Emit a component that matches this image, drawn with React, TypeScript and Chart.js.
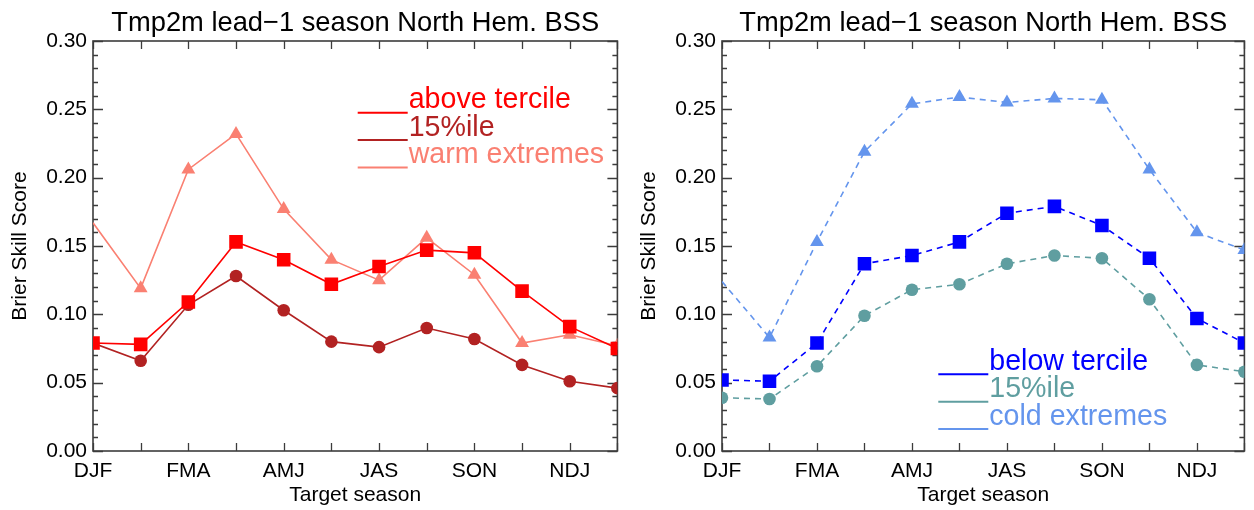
import React, { useEffect, useRef } from "react";
import { Chart, registerables } from "chart.js";

Chart.register(...registerables);

// ---------- data ----------
const seasons = ["DJF", "JFM", "FMA", "MAM", "AMJ", "MJJ", "JJA", "JAS", "ASO", "SON", "OND", "NDJ"];
const shownSeasonTicks = ["DJF", "", "FMA", "", "AMJ", "", "JAS", "", "SON", "", "NDJ", ""];
const yTickValues = [0, 0.05, 0.1, 0.15, 0.2, 0.25, 0.3];

const titleText = "Tmp2m lead\u22121 season North Hem. BSS";
const yTitleText = "Brier Skill Score";
const xTitleText = "Target season";

const warmLabels = ["above tercile", "15%ile", "warm extremes"];
const coldLabels = ["below tercile", "15%ile", "cold extremes"];

const aboveTercile = [0.079, 0.078, 0.109, 0.153, 0.140, 0.122, 0.135, 0.147, 0.145, 0.117, 0.091, 0.075];
const warm15ile = [0.079, 0.066, 0.107, 0.128, 0.103, 0.080, 0.076, 0.090, 0.082, 0.063, 0.051, 0.046];
const warmExtremes = [0.167, 0.119, 0.206, 0.232, 0.177, 0.140, 0.125, 0.156, 0.129, 0.079, 0.085, 0.077];

const belowTercile = [0.052, 0.051, 0.079, 0.137, 0.143, 0.153, 0.174, 0.179, 0.165, 0.141, 0.097, 0.079];
const cold15ile = [0.039, 0.038, 0.062, 0.099, 0.118, 0.122, 0.137, 0.143, 0.141, 0.111, 0.063, 0.058];
const coldExtremes = [0.124, 0.083, 0.153, 0.219, 0.254, 0.259, 0.255, 0.258, 0.257, 0.206, 0.160, 0.147];

// ---------- styles ----------
const FONT = "'Liberation Sans', Arial, Helvetica, sans-serif";
const warmColors = ["#FF0000", "#B22222", "#FA8072"];
const coldColors = ["#0000FF", "#5F9EA0", "#6495ED"];

const CANVAS_W = 627;
const CANVAS_H = 510;

const idlPlugin = {
  id: "idlFrame",
  beforeDatasetsDraw(chart: any) {
    const { ctx, chartArea: a, scales } = chart;
    const xs = scales.x;
    const ys = scales.y;
    ctx.save();
    ctx.strokeStyle = "#3c3c3c";
    ctx.lineWidth = 1.6;
    ctx.strokeRect(a.left, a.top, a.right - a.left, a.bottom - a.top);
    ctx.lineWidth = 1.3;
    ctx.beginPath();
    for (let i = 0; i <= 30; i++) {
      const py = Math.round(ys.getPixelForValue(i / 100)) + 0.5;
      const len = i % 5 === 0 ? 10 : 5;
      ctx.moveTo(a.left, py);
      ctx.lineTo(a.left + len, py);
      ctx.moveTo(a.right, py);
      ctx.lineTo(a.right - len, py);
    }
    for (let i = 0; i < seasons.length; i++) {
      const px = Math.round(xs.getPixelForValue(i)) + 0.5;
      ctx.moveTo(px, a.top);
      ctx.lineTo(px, a.top + 8);
      ctx.moveTo(px, a.bottom);
      ctx.lineTo(px, a.bottom - 8);
    }
    ctx.stroke();
    ctx.restore();
  },
  afterDraw(chart: any, _args: any, opts: any) {
    const { ctx, chartArea: a } = chart;
    ctx.save();
    // title
    ctx.fillStyle = "#000";
    ctx.font = `${opts.titleSize}px ${FONT}`;
    ctx.textAlign = "center";
    ctx.textBaseline = "alphabetic";
    ctx.fillText(opts.title, (a.left + a.right) / 2, opts.titleBaseline);
    // legend
    ctx.font = `${opts.legendSize}px ${FONT}`;
    ctx.textAlign = "left";
    opts.labels.forEach((lab: string, i: number) => {
      const ly = opts.legendY + i * opts.legendStep;
      ctx.strokeStyle = opts.colors[i];
      ctx.lineWidth = 2;
      ctx.beginPath();
      ctx.moveTo(opts.legendX0, ly);
      ctx.lineTo(opts.legendX1, ly);
      ctx.stroke();
      ctx.fillStyle = opts.colors[i];
      ctx.fillText(lab, opts.legendX1 + 1, ly - 4.5);
    });
    ctx.restore();
  },
};

function makeConfig(side: "warm" | "cold") {
  const warm = side === "warm";
  const colors = warm ? warmColors : coldColors;
  const series = warm ? [aboveTercile, warm15ile, warmExtremes] : [belowTercile, cold15ile, coldExtremes];
  const labels = warm ? warmLabels : coldLabels;
  const dash = warm ? [] : [6, 5];
  const styles = ["rect", "circle", "triangle"];
  const radii: any[] = [9.6, 6.3, seasons.map((_, i) => (i === 0 ? 0 : 8))];
  const tickFont = { family: FONT, size: 21 };
  return {
    type: "line" as const,
    data: {
      labels: seasons,
      datasets: series.map((d, k) => ({
        label: labels[k],
        data: d,
        borderColor: colors[k],
        backgroundColor: colors[k],
        pointBackgroundColor: colors[k],
        pointBorderColor: colors[k],
        pointBorderWidth: 0,
        pointStyle: styles[k],
        pointRadius: radii[k],
        borderWidth: 1.6,
        borderDash: dash,
        tension: 0,
        fill: false,
        clip: 0,
      })),
    },
    options: {
      animation: false as const,
      responsive: false,
      devicePixelRatio: 1,
      layout: { padding: { left: 0, right: warm ? 5 : 3, top: 41, bottom: 0 } },
      plugins: {
        legend: { display: false },
        tooltip: { enabled: false },
        title: { display: false },
        idlFrame: {
          title: titleText,
          titleSize: 27.3,
          titleBaseline: 31,
          legendSize: 28.6,
          labels,
          colors,
          legendX0: warm ? 357.7 : 311.3,
          legendX1: warm ? 407.7 : 361.3,
          legendY: warm ? 112.7 : 374.3,
          legendStep: 27.4,
        },
      },
      scales: {
        x: {
          type: "category" as const,
          offset: false,
          grid: { display: false, drawTicks: false },
          border: { display: false },
          ticks: {
            autoSkip: false,
            maxRotation: 0,
            minRotation: 0,
            padding: 8,
            color: "#000",
            font: tickFont,
            callback: (_v: any, i: number) => shownSeasonTicks[i],
          },
          title: {
            display: true,
            text: xTitleText,
            color: "#000",
            font: tickFont,
            padding: { top: 0, bottom: 2 },
          },
          afterFit: (s: any) => {
            s.height = 59;
          },
        },
        y: {
          min: 0,
          max: 0.3,
          grid: { display: false, drawTicks: false },
          border: { display: false },
          afterBuildTicks: (s: any) => {
            s.ticks = yTickValues.map((v) => ({ value: v }));
          },
          ticks: {
            padding: 6,
            color: "#000",
            font: tickFont,
            callback: (v: any) => Number(v).toFixed(2),
          },
          title: {
            display: true,
            text: yTitleText,
            color: "#000",
            font: tickFont,
            padding: { top: warm ? 8 : 10, bottom: 0 },
          },
          afterFit: (s: any) => {
            s.width = warm ? 93 : 95;
          },
        },
      },
    },
    plugins: [idlPlugin],
  };
}

function Panel({ side, left }: { side: "warm" | "cold"; left: number }) {
  const ref = useRef<HTMLCanvasElement>(null);
  useEffect(() => {
    const chart = new Chart(ref.current as HTMLCanvasElement, makeConfig(side) as any);
    return () => chart.destroy();
  }, [side]);
  return (
    <canvas
      ref={ref}
      width={CANVAS_W}
      height={CANVAS_H}
      style={{ position: "absolute", left, top: 0, width: CANVAS_W, height: CANVAS_H }}
    />
  );
}

export default function App() {
  return (
    <div style={{ position: "absolute", left: 0, top: 0, width: 1254, height: 510, background: "#fff", overflow: "hidden" }}>
      <Panel side="warm" left={0} />
      <Panel side="cold" left={627} />
    </div>
  );
}
